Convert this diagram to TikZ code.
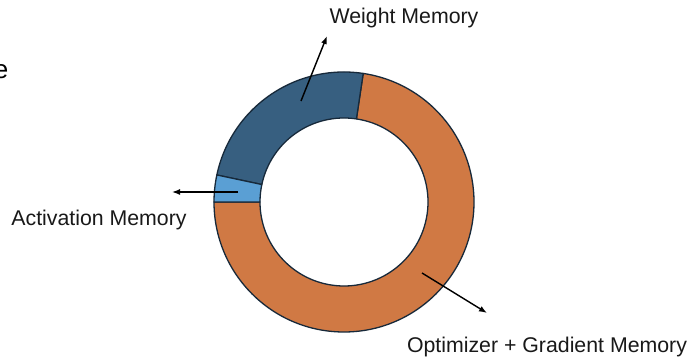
\documentclass[tikz,border=0pt]{standalone}
\usepackage{fontspec}
\setmainfont{Liberation Sans}
\definecolor{optc}{HTML}{D07944}
\definecolor{wtc}{HTML}{375F80}
\definecolor{actc}{HTML}{5A9FD4}
\definecolor{edgec}{HTML}{17293A}
\tikzset{
  seg/.style={draw=edgec, line width=1.3pt, line join=round},
  lbl/.style={font=\fontsize{21.3}{25}\selectfont, text=black!90, inner sep=0pt, anchor=base},
  pointer/.style={-{Latex[length=8pt,width=6pt]}, line width=1.4pt, black},
}
\usetikzlibrary{arrows.meta}
\begin{document}
\begin{tikzpicture}[x=1pt,y=1pt]
\useasboundingbox (0,0) rectangle (691,358);
\fill[white] (0,0) rectangle (691,358);
\coordinate (c) at (344,156);
% donut segments
\begin{scope}[shift={(c)}]
\draw[seg, fill=optc] (180:130pt) arc[start angle=180, end angle=441.5, radius=130pt]
  -- (81.5:84pt) arc[start angle=441.5, end angle=180, radius=84pt] -- cycle;
\draw[seg, fill=wtc] (81.5:130pt) arc[start angle=81.5, end angle=168, radius=130pt]
  -- (168:84pt) arc[start angle=168, end angle=81.5, radius=84pt] -- cycle;
\draw[seg, fill=actc] (168:130pt) arc[start angle=168, end angle=180, radius=130pt]
  -- (180:84pt) arc[start angle=180, end angle=168, radius=84pt] -- cycle;
\end{scope}
% labels
\node[lbl] (wlab) at (404,334) {Weight Memory};
\node[lbl] (alab) at (99,132.5) {Activation Memory};
\node[lbl] (olab) at (547,5) {Optimizer + Gradient Memory};
\node[font=\fontsize{26}{30}\selectfont, inner sep=0pt, anchor=base east] (etxt) at (8.5,279) {e};
% pointer arrows
\coordinate (wfrom) at (301,257);
\coordinate (wto) at (327,322);
\coordinate (afrom) at (238,166);
\coordinate (ato) at (172,166);
\coordinate (ofrom) at (422,85);
\coordinate (oto) at (487,45);
\draw[pointer] (wfrom) -- (wto);
\draw[pointer] (afrom) -- (ato);
\draw[pointer] (ofrom) -- (oto);
\end{tikzpicture}
\end{document}
